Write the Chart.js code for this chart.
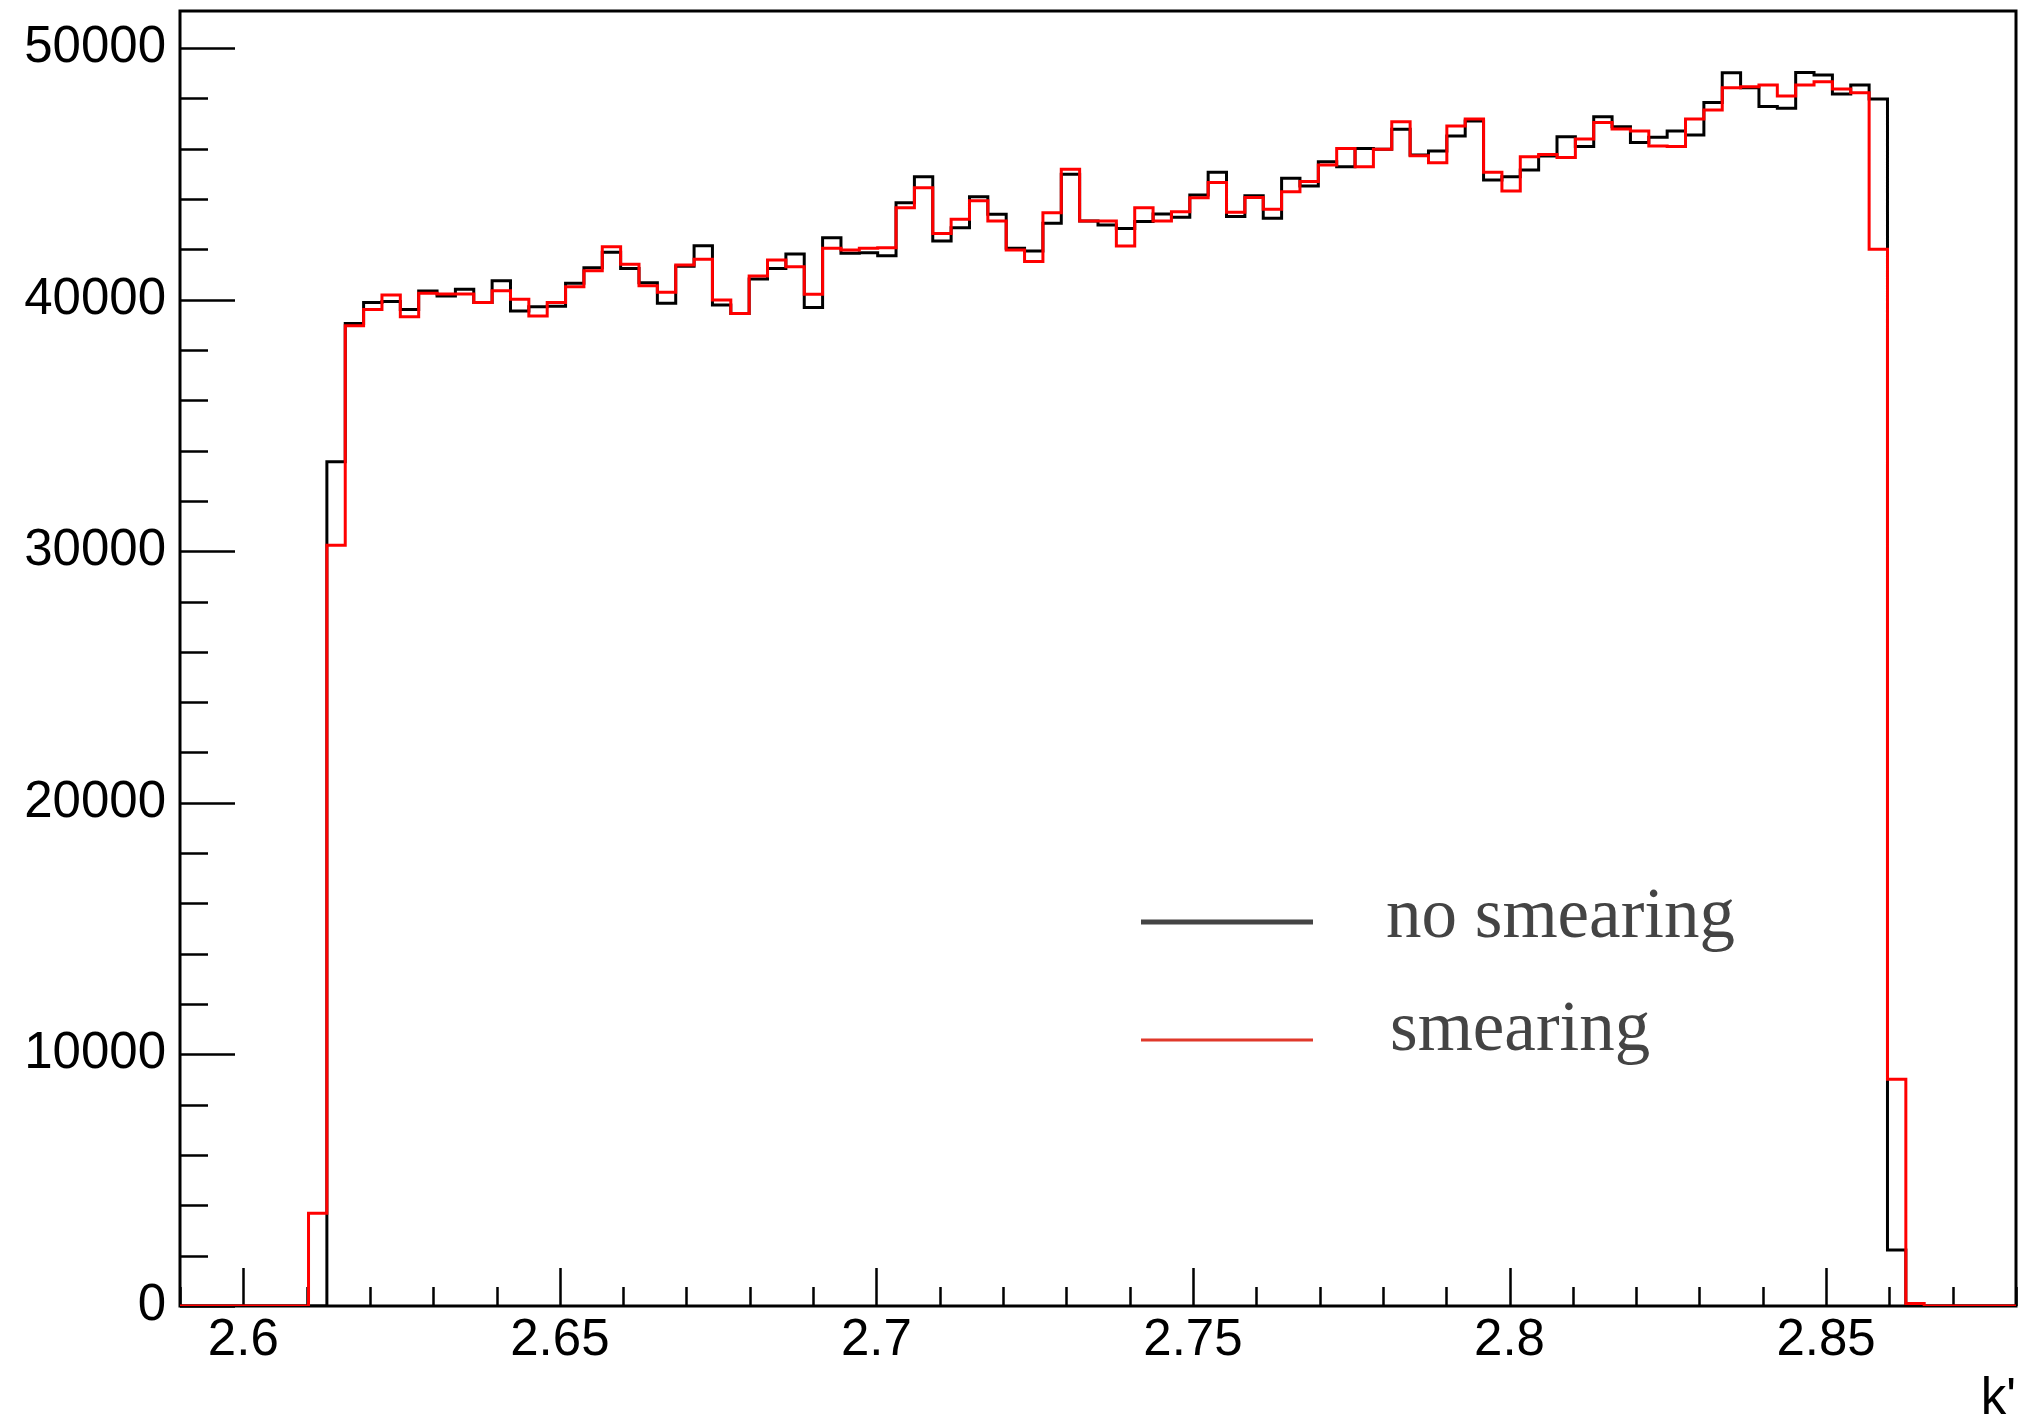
<!DOCTYPE html>
<html>
<head>
<meta charset="utf-8">
<script src="https://cdn.jsdelivr.net/npm/chart.js"></script>
<style>
  body { margin: 0; background: #fff; }
  #wrap { width: 2022px; height: 1420px; }
</style>
</head>
<body>
<div id="wrap"><canvas id="hist"></canvas></div>
<script>
document.addEventListener("DOMContentLoaded", function() {

/*
  ===================== data
*/
  // histogram binning : 100 bins from 2.59 to 2.88
  const binLow = 2.59;
  const binHigh = 2.88;
  const nBins = 100;

  const xTickValues = [2.6, 2.65, 2.7, 2.75, 2.8, 2.85];
  const xTickLabels = ['2.6', '2.65', '2.7', '2.75', '2.8', '2.85'];
  const yTickValues = [0, 10000, 20000, 30000, 40000, 50000];
  const yTickLabels = ['0', '10000', '20000', '30000', '40000', '50000'];

  const noSmearing = [
    0, 0, 0, 0, 0, 0, 0, 0, 33550, 39050,
    39880, 39920, 39610, 40340, 40140, 40410, 39880, 40750, 39550, 39720,
    39740, 40650, 41270, 41880, 41240, 40670, 39850, 41330, 42140, 39780,
    39450, 40820, 41240, 41810, 39690, 42460, 41840, 41860, 41740, 43850,
    44880, 42330, 42860, 44090, 43390, 42040, 41930, 43030, 44980, 43120,
    42960, 42830, 43100, 43400, 43270, 44160, 45060, 43300, 44130, 43230,
    44820, 44510, 45480, 45280, 46010, 45980, 46770, 45750, 45910, 46500,
    47100, 44750, 44880, 45150, 45710, 46470, 46080, 47270, 46870, 46240,
    46450, 46700, 46540, 47830, 49020, 48420, 47670, 47600, 49030, 48930,
    48170, 48530, 47970, 2230, 0, 0, 0, 0, 0, 0
  ];
  const smearing = [
    0, 0, 0, 0, 0, 0, 0, 3690, 30240, 38960,
    39610, 40180, 39320, 40250, 40220, 40220, 39880, 40350, 40010, 39350,
    39880, 40510, 41150, 42100, 41400, 40550, 40290, 41370, 41600, 39980,
    39450, 40940, 41570, 41310, 40210, 42040, 41970, 42040, 42060, 43650,
    44450, 42630, 43190, 43930, 43120, 41970, 41510, 43450, 45180, 43120,
    43120, 42130, 43650, 43120, 43490, 44050, 44650, 43470, 44060, 43590,
    44290, 44690, 45350, 46010, 45280, 45980, 47070, 45720, 45440, 46900,
    47180, 45060, 44320, 45680, 45770, 45650, 46380, 47040, 46780, 46700,
    46100, 46080, 47180, 47540, 48420, 48460, 48530, 48090, 48530, 48660,
    48370, 48220, 42000, 9010, 100, 0, 0, 0, 0, 0
  ];

  // bin contents -> step points at the bin low edges (+ closing point at the high edge)
  function toSteps(values) {
    const w = (binHigh - binLow) / nBins;
    const pts = values.map((v, i) => ({ x: binLow + i * w, y: v }));
    pts.push({ x: binHigh, y: values[values.length - 1] });
    return pts;
  }

/*
  ===================== ROOT style frame, inner ticks, legend
*/
  const rootFrame = {
    id: 'rootFrame',
    beforeDatasetsDraw(chart) {
      const ctx = chart.ctx;
      const a = chart.chartArea;
      const xs = chart.scales.x;
      const ys = chart.scales.y;
      ctx.save();
      ctx.strokeStyle = '#000';
      ctx.lineWidth = 3;
      ctx.strokeRect(a.left, a.top, a.right - a.left, a.bottom - a.top);

      ctx.lineWidth = 2.5;
      ctx.beginPath();
      // y ticks : major 10000, minor 2000
      for (let v = 0; v <= ys.max; v += 2000) {
        const py = Math.round(ys.getPixelForValue(v)) + 0.5;
        const len = (v % 10000 === 0) ? 55 : 28;
        ctx.moveTo(a.left, py);
        ctx.lineTo(a.left + len, py);
      }
      // x ticks : major 0.05, minor 0.01
      for (let k = 0; k <= 29; k++) {
        const v = 2.59 + k * 0.01;
        const px = Math.round(xs.getPixelForValue(v)) + 0.5;
        const len = ((259 + k) % 5 === 0) ? 38 : 19;
        ctx.moveTo(px, a.bottom);
        ctx.lineTo(px, a.bottom - len);
      }
      ctx.stroke();
      ctx.restore();
    },
    afterDatasetsDraw(chart) {
      const ctx = chart.ctx;
      const items = [
        { label: chart.data.datasets[0].label, color: '#444', width: 5, lineY: 922, textX: 1386, baseY: 937 },
        { label: chart.data.datasets[1].label, color: '#e0392b', width: 3, lineY: 1040, textX: 1390, baseY: 1050 }
      ];
      ctx.save();
      items.forEach(it => {
        ctx.strokeStyle = it.color;
        ctx.lineWidth = it.width;
        ctx.beginPath();
        ctx.moveTo(1141, it.lineY);
        ctx.lineTo(1313, it.lineY);
        ctx.stroke();

        ctx.fillStyle = '#444';
        ctx.font = '71px "Liberation Serif"';
        ctx.textAlign = 'left';
        ctx.textBaseline = 'alphabetic';
        ctx.fillText(it.label, it.textX, it.baseY);
      });
      ctx.restore();
    }
  };

/*
  ===================== chart
*/
  const axisFont = { family: '"Liberation Sans", Arial, sans-serif', size: 51 };

  new Chart(document.getElementById('hist'), {
    type: 'line',
    data: {
      datasets: [
        {
          label: 'no smearing',
          data: toSteps(noSmearing),
          borderColor: '#000',
          borderWidth: 3,
          stepped: 'before',
          pointRadius: 0,
          fill: false,
          order: 2
        },
        {
          label: 'smearing',
          data: toSteps(smearing),
          borderColor: '#ff0000',
          borderWidth: 3,
          stepped: 'before',
          pointRadius: 0,
          fill: false,
          order: 1
        }
      ]
    },
    options: {
      responsive: true,
      maintainAspectRatio: false,
      animation: false,
      layout: { padding: { left: 0, right: 6, top: 11, bottom: 0 } },
      plugins: {
        legend: { display: false },
        tooltip: { enabled: false }
      },
      scales: {
        x: {
          type: 'linear',
          min: binLow,
          max: binHigh,
          grid: { display: false, drawTicks: false },
          border: { display: false },
          afterBuildTicks: s => { s.ticks = xTickValues.map(v => ({ value: v })); },
          afterFit: s => { s.height = 114; s.paddingLeft = 0; s.paddingRight = 0; },
          ticks: {
            color: '#000',
            font: axisFont,
            padding: 4,
            maxRotation: 0,
            autoSkip: false,
            callback: (value, index) => xTickLabels[index]
          },
          title: {
            display: true,
            text: "k'",
            align: 'end',
            color: '#000',
            font: { family: axisFont.family, size: 51, lineHeight: 0.8 },
            padding: 0
          }
        },
        y: {
          min: 0,
          max: 51470,
          grid: { display: false, drawTicks: false },
          border: { display: false },
          afterBuildTicks: s => { s.ticks = yTickValues.map(v => ({ value: v })); },
          afterFit: s => { s.width = 180; s.paddingTop = 0; s.paddingBottom = 0; },
          ticks: {
            color: '#000',
            font: axisFont,
            padding: 14,
            autoSkip: false,
            callback: (value, index) => yTickLabels[index]
          }
        }
      }
    },
    plugins: [rootFrame]
  });

});
</script>
</body>
</html>
